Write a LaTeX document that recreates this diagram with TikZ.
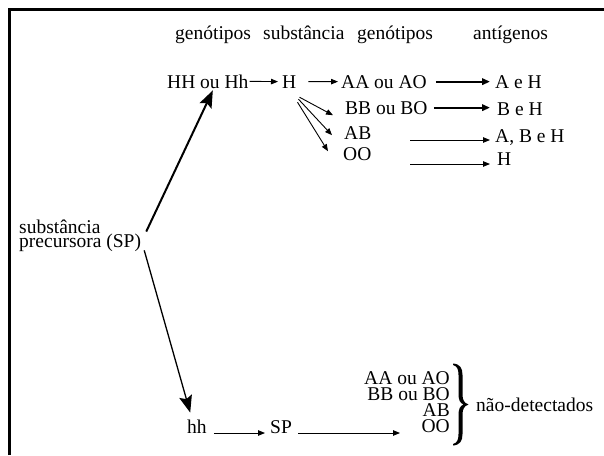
\documentclass[tikz,border=0pt]{standalone}
\usepackage{fontspec}
\setmainfont{Liberation Serif}
\usetikzlibrary{arrows.meta}
\begin{document}
\begin{tikzpicture}[x=1pt,y=-1pt,
  lbl/.style={inner sep=0pt, anchor=base west, font=\fontsize{19.5}{22}\selectfont},
  lble/.style={inner sep=0pt, anchor=base east, font=\fontsize{19.5}{22}\selectfont},
  sarr/.style={-{Triangle[length=7pt,width=5.5pt]}, line width=0.9pt},
  tarr/.style={-{Triangle[length=8pt,width=6.5pt]}, line width=2pt},
  barr/.style={-{Stealth[length=17pt,width=13pt,inset=3pt]}, line width=2pt}]
\useasboundingbox (0,0) rectangle (604,455);
\fill[white] (0,0) rectangle (604,455);
\draw[line width=2.7pt] (9.7,455) -- (9.7,9.7) -- (604,9.7);

% headers
\node[lbl] (g1) at (175,39) {genótipos};
\node[lbl] (s1) at (263,39) {substância};
\node[lbl] (g2) at (357,39) {genótipos};
\node[lbl] (ant) at (473,39) {antígenos};

% row 1
\node[lbl] (HH) at (167,88) {HH ou Hh};
\node[lbl] (H) at (282,88) {H};
\node[lbl] (AA) at (341,88) {AA ou AO};
\node[lbl] (AeH) at (495,88) {A e H};
% row 2
\node[lbl] (BB) at (345,114) {BB ou BO};
\node[lbl] (BeH) at (497,115) {B e H};
% row 3
\node[lbl] (AB) at (344,139) {AB};
\node[lbl] (ABH) at (495,142) {A, B e H};
% row 4
\node[lbl] (OO) at (343,160) {OO};
\node[lbl] (Hr) at (497,165) {H};

\draw[sarr] ([xshift=1pt]HH.east) -- ([xshift=-4pt]H.west);
\draw[sarr] ([xshift=12pt]H.east) -- ([xshift=-3pt]AA.west);
\draw[tarr] ([xshift=9pt]AA.east) -- ([xshift=-5pt]AA.east -| AeH.west);
\draw[tarr] ([xshift=6pt]BB.east) -- ([xshift=-7pt]BB.east -| BeH.west);
\coordinate (c3) at (410,140);
\coordinate (c4) at (410,164);
\draw[sarr, shorten >=5pt] (c3) -- (c3 -| ABH.west);
\draw[sarr, shorten >=7pt] (c4) -- (c4 -| Hr.west);

% fan from H
\draw[sarr] ([shift={(3,9)}]H.south east) -- ([shift={(-12,7.6)}]BB.west);
\draw[sarr] ([shift={(2,11)}]H.south east) -- ([shift={(-12,2.6)}]AB.west);
\draw[sarr] ([shift={(1,14)}]H.south east) -- ([shift={(-15,-2.4)}]OO.west);

% precursor substance
\node[lbl] (sub) at (19,233) {substância};
\node[lbl] (prec) at (19,247) {precursora (SP)};

\draw[barr] ([shift={(5,-1.7)}]prec.north east) -- ([shift={(5,2)}]HH.south);

% bottom
\node[lbl] (hh) at (187,433) {hh};
\node[lbl] (SPb) at (270,433) {SP};
\draw[barr, line width=1.3pt] ([shift={(3,-1)}]prec.south east) -- ([shift={(-6.75,-6.7)}]hh.north);
\draw[sarr] ([xshift=7pt]hh.base east) -- ([xshift=-5pt]SPb.base west);
\coordinate (e5) at (400,433);
\draw[sarr] ([xshift=6pt]SPb.base east) -- (e5);

\node[lble] (bAA) at (450,384) {AA ou AO};
\node[lble] (bBB) at (450,400) {BB ou BO};
\node[lble] (bAB) at (450,416) {AB};
\node[lble] (bOO) at (450,432) {OO};
% brace
\fill (453,363.5) .. controls (460,364) and (462.5,368) .. (462.5,375)
  -- (462.5,394) .. controls (462.5,400) and (464,403) .. (468.5,404.5)
  .. controls (464,406) and (462.5,409) .. (462.5,415)
  -- (462.5,434) .. controls (462.5,441) and (460,445) .. (453,445.5)
  -- (453,444) .. controls (457,443) and (458.5,440) .. (458.5,434)
  -- (458.5,415) .. controls (458.5,409) and (460,406) .. (463.5,404.5)
  .. controls (460,403) and (458.5,400) .. (458.5,394)
  -- (458.5,375) .. controls (458.5,369) and (457,366) .. (453,365) -- cycle;
\node[lbl] (nd) at (476,411) {não-detectados};
\end{tikzpicture}
\end{document}
